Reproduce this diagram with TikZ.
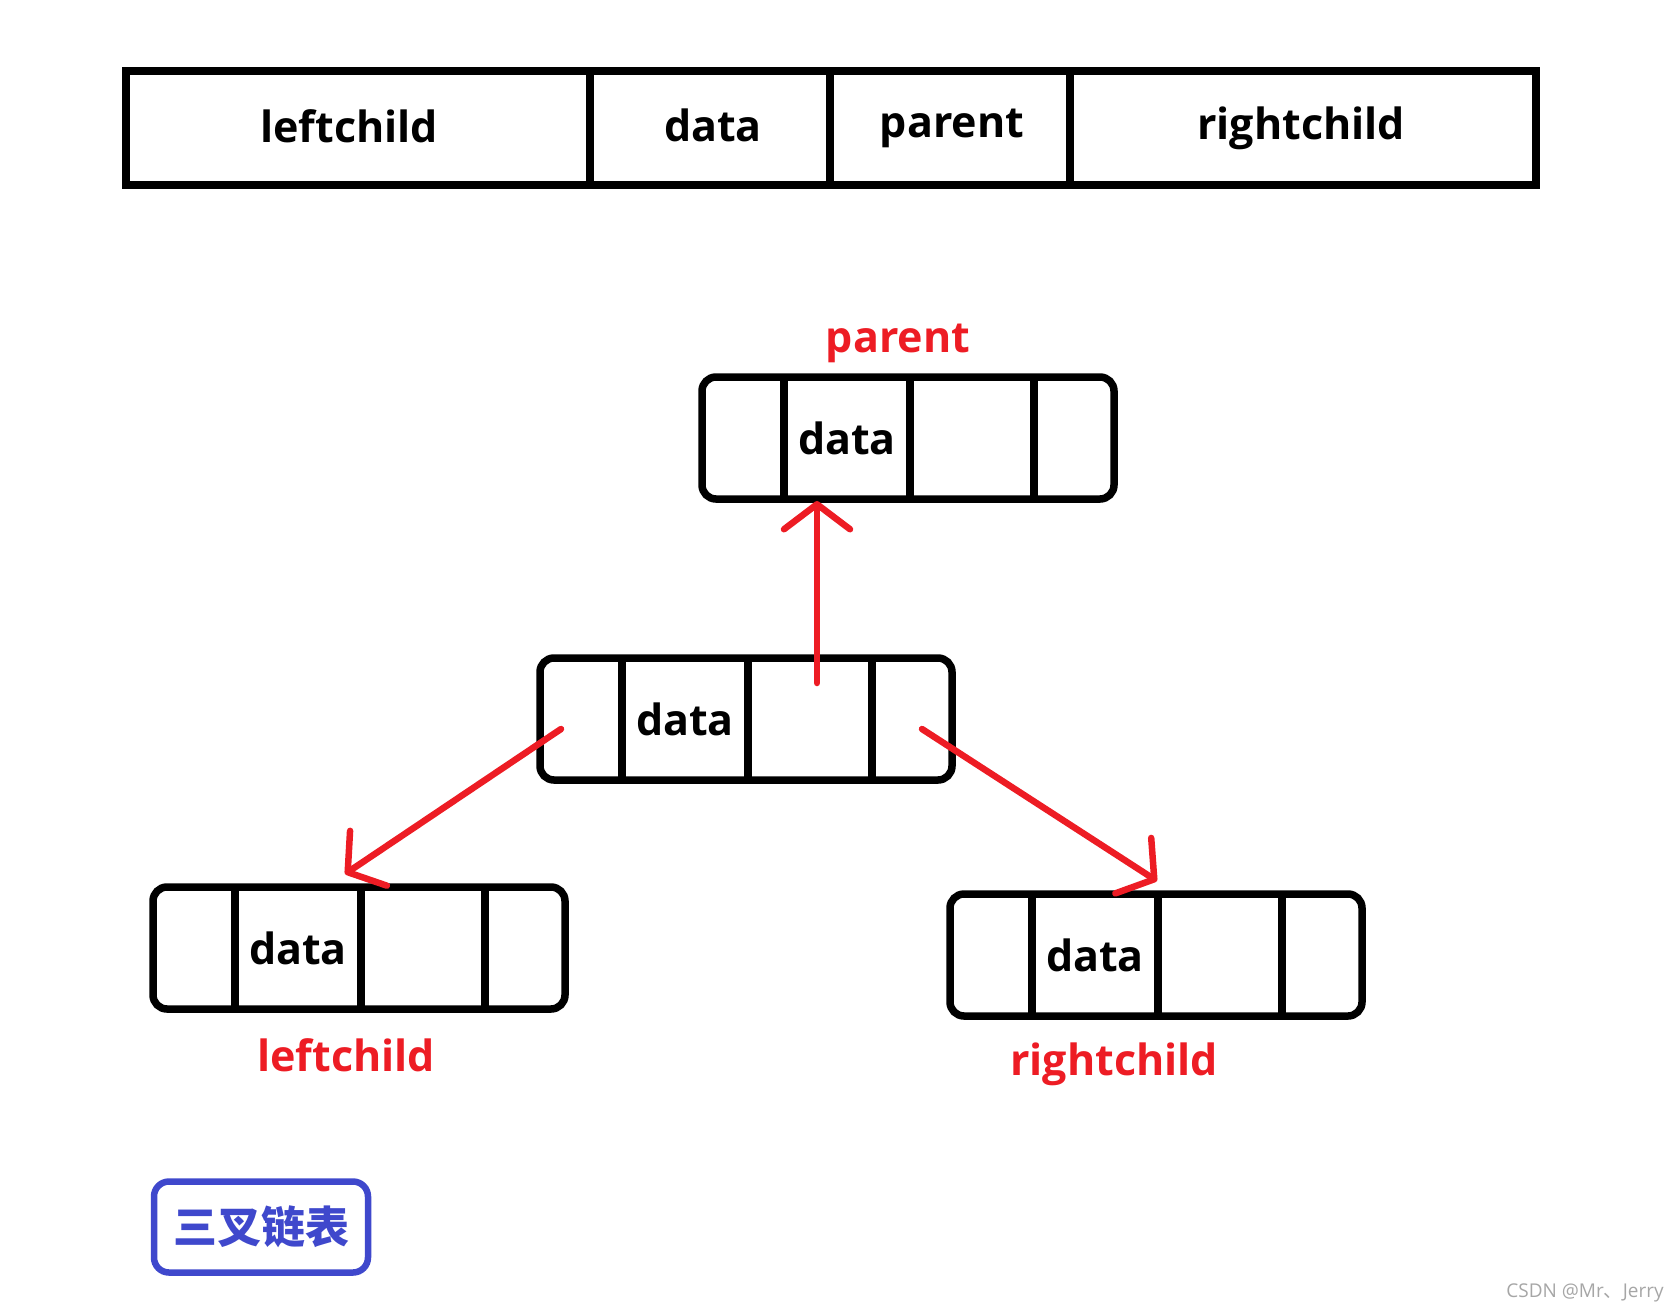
\documentclass[tikz,border=0pt]{standalone}
\usepackage{fontspec}
\setmainfont{Open Sans}
\newfontfamily\cjk{Noto Sans CJK SC}
\usetikzlibrary{arrows.meta,calc}
\definecolor{paintred}{HTML}{ED1C24}
\definecolor{paintblue}{HTML}{3F48CC}

\tikzset{
  barline/.style={line width=7.5pt},
  boxline/.style={line width=7.5pt},
  lbl/.style={font=\fontsize{43}{50}\selectfont\bfseries, inner sep=0pt},
  redlbl/.style={lbl, text=paintred},
  link/.style={draw=paintred, line width=6.5pt, line cap=round,
    -{Straight Barb[length=25pt,width=66pt,round]}},
  tagbox/.style={draw=paintblue, line width=6.5pt, rounded corners=15pt,
    minimum width=214pt, minimum height=91pt, text=paintblue,
    font=\cjk\fontsize{44}{50}\selectfont\bfseries},
  wmtext/.style={text=gray!70, font=\fontsize{19}{23}\selectfont, inner sep=0pt}
}

% one node of the list: name, left x, top y
\newcommand{\listnode}[3]{%
  \draw[boxline,rounded corners=14pt] (#2,#3) rectangle ++(412,122);
  \foreach \dx in {82,208,332}
    \draw[boxline] (#2+\dx,#3) -- ++(0,122);
  \coordinate (#1-lc) at (#2+41,#3+61);
  \node[lbl] (#1-d) at (#2+145,#3+61) {data};
  \coordinate (#1-pa) at (#2+270,#3+61);
  \coordinate (#1-rc) at (#2+372,#3+61);
}

\begin{document}
\begin{tikzpicture}[x=1pt,y=-1pt]
  \useasboundingbox (0,0) rectangle (1680,1315);

  % field layout
  \draw[barline] (126,71) rectangle (1536,185);
  \foreach \x in {590,830,1070}
    \draw[barline] (\x,71) -- (\x,185);
  \node[lbl] (bar-lc) at (349,126) {leftchild};
  \node[lbl] (bar-d) at (713,125) {data};
  \node[lbl] (bar-pa) at (952,128) {parent};
  \node[lbl] (bar-rc) at (1301,128) {rightchild};

  % the four nodes
  \listnode{par}{702}{377}
  \listnode{mid}{540}{658}
  \listnode{left}{153}{887}
  \listnode{right}{950}{894}

  \node[redlbl] (par-name) at (898,343) {parent};
  \node[redlbl] (left-name) at (346,1055) {leftchild};
  \node[redlbl] (right-name) at (1114,1064) {rightchild};

  % pointers
  \draw[link] ($(mid-pa)+(7,-36)$) -- ($(par-d)+(-30,63)$);
  \draw[link] ($(mid-lc)+(-20,10)$) -- ($(left-d)+(47,-74)$);
  \draw[link] ($(mid-rc)+(10,10)$) -- ($(right-d)+(62,-74)$);

  \node[tagbox] (tag) at (261,1227) {三叉链表};
  \node[wmtext] (wm) at (1585,1293) {CSDN @Mr{\cjk 、}Jerry};
\end{tikzpicture}
\end{document}
